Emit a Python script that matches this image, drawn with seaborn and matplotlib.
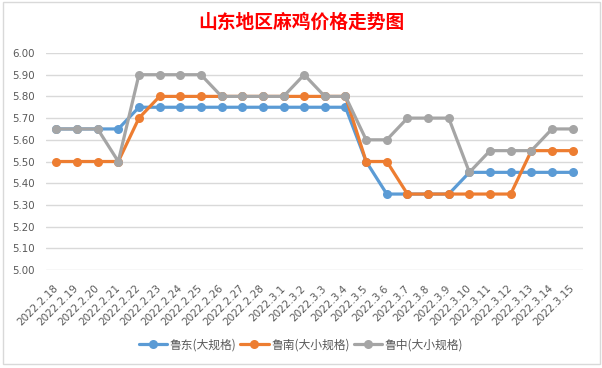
import matplotlib
matplotlib.use("Agg")
import matplotlib.pyplot as plt
import matplotlib.transforms as mtransforms
from matplotlib.lines import Line2D
from matplotlib.patches import Rectangle
import seaborn as sns
import pandas as pd

dates = ["2022.2.18", "2022.2.19", "2022.2.20", "2022.2.21", "2022.2.22", "2022.2.23",
         "2022.2.24", "2022.2.25", "2022.2.26", "2022.2.27", "2022.2.28", "2022.3.1",
         "2022.3.2", "2022.3.3", "2022.3.4", "2022.3.5", "2022.3.6", "2022.3.7",
         "2022.3.8", "2022.3.9", "2022.3.10", "2022.3.11", "2022.3.12", "2022.3.13",
         "2022.3.14", "2022.3.15"]
ludong = [5.65, 5.65, 5.65, 5.65, 5.75, 5.75, 5.75, 5.75, 5.75, 5.75, 5.75, 5.75, 5.75,
          5.75, 5.75, 5.50, 5.35, 5.35, 5.35, 5.35, 5.45, 5.45, 5.45, 5.45, 5.45, 5.45]
lunan = [5.50, 5.50, 5.50, 5.50, 5.70, 5.80, 5.80, 5.80, 5.80, 5.80, 5.80, 5.80, 5.80,
         5.80, 5.80, 5.50, 5.50, 5.35, 5.35, 5.35, 5.35, 5.35, 5.35, 5.55, 5.55, 5.55]
luzhong = [5.65, 5.65, 5.65, 5.50, 5.90, 5.90, 5.90, 5.90, 5.80, 5.80, 5.80, 5.80, 5.90,
           5.80, 5.80, 5.60, 5.60, 5.70, 5.70, 5.70, 5.45, 5.55, 5.55, 5.55, 5.65, 5.65]
series_names = ["鲁东(大规格)", "鲁南(大小规格)", "鲁中(大小规格)"]
title = "山东地区麻鸡价格走势图"
yticks = [5.00, 5.10, 5.20, 5.30, 5.40, 5.50, 5.60, 5.70, 5.80, 5.90, 6.00]

colors = ["#5B9BD5", "#ED7D31", "#A5A5A5"]

rows = []
for name, vals in zip(series_names, [ludong, lunan, luzhong]):
    for d, v in zip(dates, vals):
        rows.append({"date": d, "price": v, "series": name})
df = pd.DataFrame(rows)

sns.set_theme(style="white")
plt.rcParams["font.family"] = ["Noto Sans CJK SC", "DejaVu Sans"]

fig = plt.figure(figsize=(6.02, 3.68), dpi=100)
fig.patch.set_facecolor("white")
ax = fig.add_axes([46 / 602, 1 - 270 / 368, (583 - 46) / 602, (270 - 53) / 368])

sns.lineplot(data=df, x="date", y="price", hue="series", palette=colors,
             marker="o", markersize=6.5, markeredgewidth=0, linewidth=2.3,
             sort=False, legend=False, ax=ax)

ax.set_xlim(-0.5, len(dates) - 0.5)
ax.set_ylim(5.0, 6.0)
ax.set_yticks(yticks)
ax.set_yticklabels([f"{v:.2f}" for v in yticks], fontsize=7.4, color="#595959",
                   family="DejaVu Sans")
ax.set_xticks(range(len(dates)))
ax.set_xticklabels(dates, rotation=45, ha="right", va="center",
                   rotation_mode="anchor", fontsize=7.5, color="#595959",
                   family="DejaVu Sans")
offset = mtransforms.ScaledTranslation(4 / 100, 0, fig.dpi_scale_trans)
for lbl in ax.get_xticklabels():
    lbl.set_transform(lbl.get_transform() + offset)
ax.tick_params(axis="x", length=0, pad=12)
ax.tick_params(axis="y", length=0, pad=8)
ax.grid(axis="y", color="#D9D9D9", linewidth=1)
ax.set_axisbelow(True)
for s in ax.spines.values():
    s.set_visible(False)
ax.set_xlabel("")
ax.set_ylabel("")

fig.text(0.5, 1 - 22 / 368, title, ha="center", va="center", color="#FF0000",
         fontsize=13.5, fontweight="bold", family=["Noto Sans CJK SC", "DejaVu Sans"])

handles = [Line2D([0], [0], color=c, linewidth=2.3, marker="o", markersize=6.5,
                  markeredgewidth=0) for c in colors]
fig.legend(handles, series_names, loc="center", bbox_to_anchor=(0.5, 1 - 345 / 368),
           ncol=3, frameon=False, fontsize=8.5, handlelength=2.4, handletextpad=0.25,
           columnspacing=0.3, labelcolor="#595959")

fig.patches.append(Rectangle((3 / 602, 1 - 364 / 368), 597 / 602, 362 / 368,
                             transform=fig.transFigure, fill=False,
                             edgecolor="#D9D9D9", linewidth=1))

fig.savefig("out.png", dpi=100, facecolor="white")
